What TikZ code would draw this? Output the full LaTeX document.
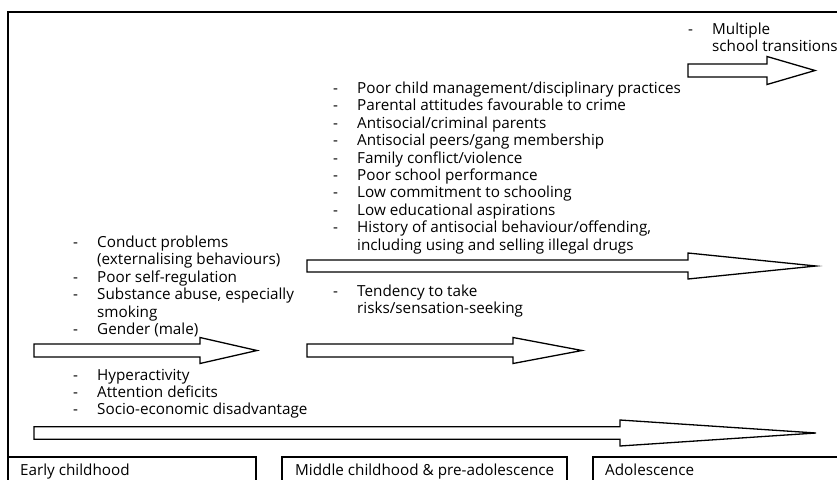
\documentclass[tikz,border=0pt]{standalone}
\usepackage{fontspec}
\setmainfont{Open Sans}
\newcommand\blkarrow[6]{% x0, xbase, xtip, ycentre, half shaft, half head
  \draw[blk] (#1,#4-#5) -- (#2,#4-#5) -- (#2,#4-#6) -- (#3,#4) -- (#2,#4+#6) -- (#2,#4+#5) -- (#1,#4+#5) -- cycle;}
\newcommand\lsttab[1]{\begin{tabular}[t]{@{}p{24pt}@{}l@{}}#1\end{tabular}}
\begin{document}
\begin{tikzpicture}[x=1pt,y=-1pt,line join=miter,
  frame/.style={line width=1.8pt},
  boxline/.style={line width=1.5pt},
  blk/.style={draw,line width=1.3pt,fill=white},
  lst/.style={anchor=base west,inner sep=0pt,font=\fontsize{15.25}{17.4}\selectfont}]
\useasboundingbox (0,0) rectangle (837,479);
% outer frame
\draw[frame] (8,481) -- (8,12) -- (840,12);
% stage boxes
\draw[boxline] (8,457) -- (256,457) -- (256,481);
\draw[boxline] (282,481) -- (282,457) -- (567,457) -- (567,481);
\draw[boxline] (593,481) -- (593,457) -- (840,457);
\node[lst] (early) at (20,475) {Early childhood};
\node[lst] (middle) at (295,475) {Middle childhood \& pre-adolescence};
\node[lst] (adol) at (605,475) {Adolescence};
% arrows
\blkarrow{688}{767}{815}{70.5}{6.5}{14}
\blkarrow{307}{688}{816}{266}{6}{13}
\blkarrow{34}{200}{257}{350.5}{6.5}{13}
\blkarrow{307}{513}{582}{350.5}{6.5}{13}
\blkarrow{34}{620}{816}{433}{6.3}{13}
% texts
\node[lst] (multi) at (688,34) {\lsttab{- & Multiple\\ & school transitions}};
\node[lst] (midlist) at (333,93.5) {\lsttab{%
- & Poor child management/disciplinary practices\\
- & Parental attitudes favourable to crime\\
- & Antisocial/criminal parents\\
- & Antisocial peers/gang membership\\
- & Family conflict/violence\\
- & Poor school performance\\
- & Low commitment to schooling\\
- & Low educational aspirations\\
- & History of antisocial behaviour/offending,\\
  & including using and selling illegal drugs}};
\node[lst] (tend) at (333,296.5) {\lsttab{- & Tendency to take\\ & risks/sensation-seeking}};
\node[lst] (earlylist) at (73,247.5) {\lsttab{%
- & Conduct problems\\
  & (externalising behaviours)\\
- & Poor self-regulation\\
- & Substance abuse, especially\\
  & smoking\\
- & Gender (male)}};
\node[lst] (lowlist) at (73,380) {\lsttab{%
- & Hyperactivity\\
- & Attention deficits\\
- & Socio-economic disadvantage}};
\end{tikzpicture}
\end{document}
